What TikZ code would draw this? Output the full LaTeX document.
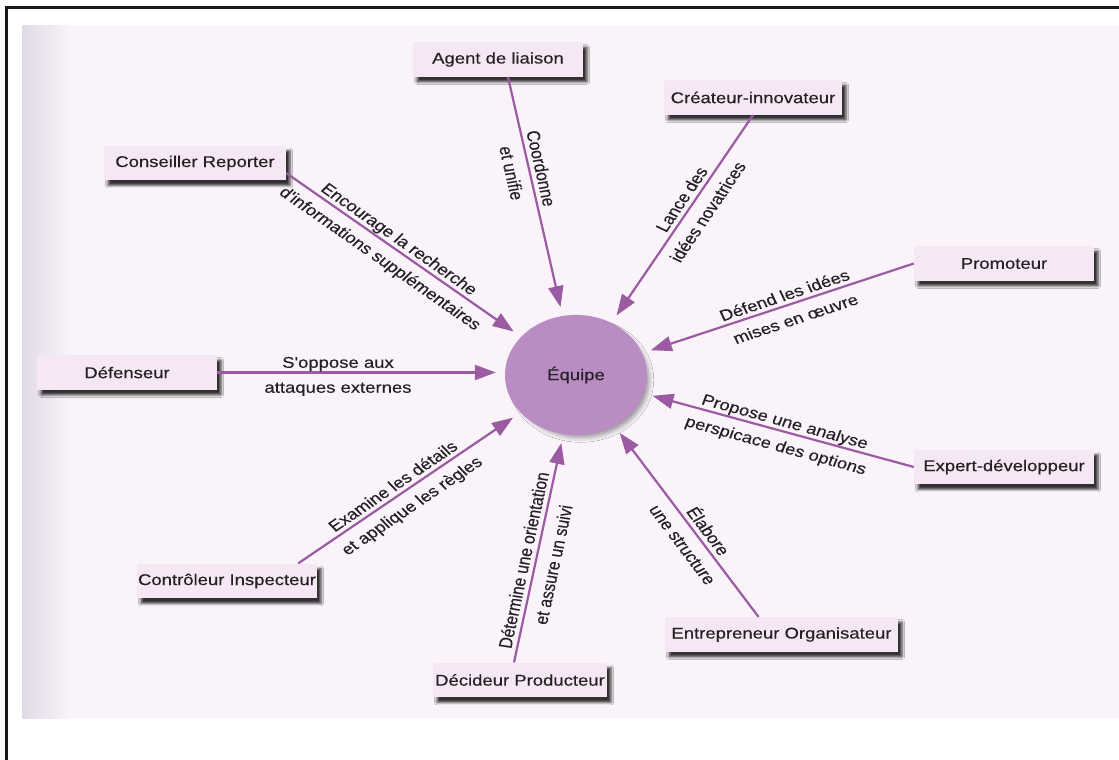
\documentclass[tikz,border=0pt]{standalone}
\usepackage{fontspec}
\setmainfont{Liberation Sans}
\newfontfamily\inkfont{Liberation Sans}[FakeBold=0.3]
\usetikzlibrary{arrows.meta,shapes.geometric,shadows.blur,calc}

\definecolor{pagebg}{HTML}{FAF3F9}
\definecolor{pageedge}{HTML}{E2DAE6}
\definecolor{boxfill}{HTML}{F5E7F4}
\definecolor{arrowc}{HTML}{9A5BA2}
\definecolor{teamfill}{HTML}{B98DC4}
\definecolor{inkc}{HTML}{242024}

\begin{document}
\begin{tikzpicture}[x=1pt,y=-1pt,
  txt/.style={font=\inkfont\fontsize{18.5}{22}\selectfont, text=inkc},
  role/.style={txt, fill=boxfill, minimum width=#1, minimum height=41.5pt,
    inner sep=0pt,
    blur shadow={shadow xshift=4pt, shadow yshift=-5pt,
      shadow blur radius=2.5pt, shadow opacity=80}},
  team/.style={txt, ellipse, fill=teamfill, minimum width=142pt,
    minimum height=143pt, inner sep=0pt,
    blur shadow={shadow xshift=5pt, shadow yshift=-5pt, shadow scale=0.96,
      shadow blur radius=5pt, shadow opacity=40}},
  arr/.style={draw=arrowc, line width=2.2pt,
    -{Triangle[length=21pt,width=15pt]}, shorten >=9pt},
  % first line of a label: baseline just off the connector
  labup/.style={txt, sloped, inner sep=0pt, text depth=0pt, above=4.5pt},
  % second line of a label: baseline at a fixed distance on the other side
  labdown/.style={txt, sloped, inner sep=0pt, text height=0pt, below=23pt}
]
\useasboundingbox (0,0) rectangle (1119,760);

% sheet of paper and frame
\fill[white] (0,0) rectangle (1119,760);
\fill[pagebg] (22,26) rectangle (1119,718);
\shade[left color=pageedge, right color=pagebg] (22,26) rectangle (70,718);
\draw[line width=2.4pt, black!90] (6.5,770) -- (6.5,7.5) -- (1130,7.5);

% the printed chart is slightly flattened vertically
\begin{scope}[y=-1.19048pt, yscale=0.84, transform shape]
% centre
\node[team] (equipe) at (576,375) {Équipe};

% roles
\node[role=170pt] (agent)        at (498,59.5)  {Agent de liaison};
\node[role=178pt] (createur)     at (753,97.5)  {Créateur-innovateur};
\node[role=182pt] (conseiller)   at (195,163)   {Conseiller Reporter};
\node[role=180pt] (promoteur)    at (1004,263.5){Promoteur};
\node[role=180pt] (defenseur)    at (127,372.5) {Défenseur};
\node[role=180pt] (expert)       at (1004,467)  {Expert-développeur};
\node[role=180pt] (controleur)   at (227,581)   {Contrôleur Inspecteur};
\node[role=233pt] (entrepreneur) at (781.5,634.5){Entrepreneur Organisateur};
\node[role=174pt] (decideur)     at (520,680)   {Décideur Producteur};

% contributions
\draw[arr] ([xshift=10pt]agent.south) --
  node[labup,pos=.39]{Coordonne}
  node[labdown,pos=.39]{et unifie} (equipe);
\draw[arr] (createur.south) --
  node[labup,pos=.43]{Lance des}
  node[labdown,pos=.43]{idées novatrices} (equipe);
\draw[arr] ([yshift=9pt]conseiller.south east) --
  node[labup,pos=.45]{Encourage la recherche}
  node[labdown,pos=.45]{d'informations supplémentaires} (equipe);
\draw[arr] (promoteur.west) --
  node[labup,pos=.46]{Défend les idées}
  node[labdown,pos=.46]{mises en œuvre} (equipe);
\draw[arr] (defenseur.east) --
  node[labup,pos=.42]{S'oppose aux}
  node[labdown,pos=.42]{attaques externes} (defenseur.east -| equipe.west);
\draw[arr] (expert.west) --
  node[labup,pos=.49]{Propose une analyse}
  node[labdown,pos=.49]{perspicace des options} (equipe);
\draw[arr] ([xshift=-19pt]controleur.north east) --
  node[labup,pos=.46]{Examine les détails}
  node[labdown,pos=.46]{et applique les règles} (equipe);
\draw[arr] ([xshift=-23pt]entrepreneur.north) --
  node[labup,pos=.42]{Élabore}
  node[labdown,pos=.42]{une structure} (equipe);
\draw[arr] ([xshift=-6pt]decideur.north) --
  node[labup,pos=.44]{Détermine une orientation}
  node[labdown,pos=.44]{et assure un suivi} (equipe);
\end{scope}
\end{tikzpicture}
\end{document}
